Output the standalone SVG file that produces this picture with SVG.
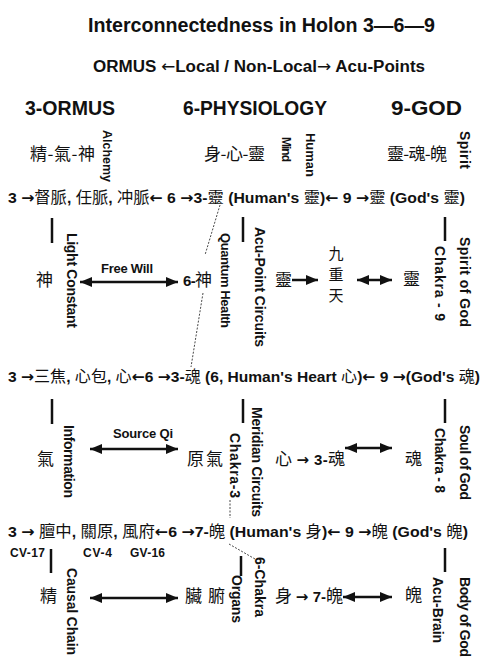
<svg xmlns="http://www.w3.org/2000/svg" width="487" height="672" viewBox="0 0 487 672">
<defs>
<style>
text{font-family:'Liberation Sans','Noto Sans CJK TC',sans-serif;font-weight:bold;fill:#111}
.t{font-size:21px}
.s{font-size:16px}
.h{font-size:21px}
.r{font-size:15.5px}
.c{font-family:'Noto Sans CJK TC','Liberation Sans',sans-serif;font-weight:normal;font-size:17px}
.cr{font-family:'Noto Sans CJK TC',sans-serif;font-weight:normal;font-size:16px}
.ar{font-family:'DejaVu Sans',sans-serif;font-weight:bold}
.arn{font-family:'DejaVu Sans',sans-serif;font-weight:normal}
.lat{font-family:'Liberation Sans',sans-serif;font-weight:bold;font-size:15px}
.v{font-size:14px}
.sm{font-size:12px}
.lbl{font-size:13px}
.ln{stroke:#111;stroke-width:2.5;fill:none}
.dot{stroke:#333;stroke-width:0.9;stroke-dasharray:2 1.5;fill:none}
</style>
<marker id="ah" viewBox="0 0 12 10" markerWidth="12" markerHeight="10" refX="12" refY="5" markerUnits="userSpaceOnUse" orient="auto-start-reverse">
<path d="M0,0 L12,5 L0,10 z" fill="#111"/>
</marker>
</defs>
<rect width="487" height="672" fill="#fff"/>

<g id="title"><text class="t" x="88" y="32" textLength="347" lengthAdjust="spacingAndGlyphs">Interconnectedness in Holon 3—6—9</text></g>
<g id="subtitle"><text class="s" x="93" y="72" textLength="332" lengthAdjust="spacingAndGlyphs">ORMUS <tspan class="arn">←</tspan>Local / Non-Local<tspan class="arn">→</tspan>  Acu-Points</text></g>

<g id="header-ormus"><text class="h" x="25" y="115" textLength="90" lengthAdjust="spacingAndGlyphs">3-ORMUS</text></g>
<g id="header-physiology"><text class="h" x="183" y="115" textLength="144" lengthAdjust="spacingAndGlyphs">6-PHYSIOLOGY</text></g>
<g id="header-god"><text class="h" x="391" y="115" textLength="71" lengthAdjust="spacingAndGlyphs">9-GOD</text></g>

<g id="alchemy">
<text class="c" x="30" y="160" textLength="65">精-氣-神</text>
<text style="font-size:12.5px" transform="translate(103,130) rotate(90)" textLength="52">Alchemy</text>
</g>
<g id="human-mind">
<text class="c" x="204" y="160" textLength="61">身-心-靈</text>
<text style="font-size:12px" transform="translate(281.5,137) rotate(90)" textLength="25">Mind</text>
<text style="font-size:13px" transform="translate(306,133) rotate(90)" textLength="44">Human</text>
</g>
<g id="spirit">
<text class="c" x="387" y="160" textLength="60">靈-魂-魄</text>
<text class="v" transform="translate(460,131) rotate(90)" textLength="38">Spirit</text>
</g>

<g id="row1">
<text class="r" x="8" y="203" textLength="457" lengthAdjust="spacingAndGlyphs">3 <tspan class="ar">→</tspan><tspan class="cr">督脈</tspan>, <tspan class="cr">任脈</tspan>, <tspan class="cr">冲脈</tspan><tspan class="ar">←</tspan> 6 <tspan class="ar">→</tspan>3-<tspan class="cr">靈</tspan> (Human's <tspan class="cr">靈</tspan>)<tspan class="ar">←</tspan> 9 <tspan class="ar">→</tspan><tspan class="cr">靈</tspan> (God's <tspan class="cr">靈</tspan>)</text>
</g>
<g id="row2">
<text class="r" x="8" y="382" textLength="472" lengthAdjust="spacingAndGlyphs">3 <tspan class="ar">→</tspan><tspan class="cr">三焦</tspan>, <tspan class="cr">心包</tspan>, <tspan class="cr">心</tspan><tspan class="ar">←</tspan>6 <tspan class="ar">→</tspan>3-<tspan class="cr">魂</tspan> (6, Human's Heart <tspan class="cr">心</tspan>)<tspan class="ar">←</tspan> 9 <tspan class="ar">→</tspan>(God's <tspan class="cr">魂</tspan>)</text>
</g>
<g id="row3">
<text class="r" x="8" y="537" textLength="460" lengthAdjust="spacingAndGlyphs">3 <tspan class="ar">→</tspan> <tspan class="cr">膻中</tspan>, <tspan class="cr">關原</tspan>, <tspan class="cr">風府</tspan><tspan class="ar">←</tspan>6 <tspan class="ar">→</tspan>7-<tspan class="cr">魄</tspan> (Human's <tspan class="cr">身</tspan>)<tspan class="ar">←</tspan> 9 <tspan class="ar">→</tspan><tspan class="cr">魄</tspan> (God's <tspan class="cr">魄</tspan>)</text>
</g>
<g id="acupoints">
<text class="sm" x="10" y="557" textLength="35">CV-17</text>
<text class="sm" x="83" y="557" textLength="29">CV-4</text>
<text class="sm" x="130" y="557" textLength="35">GV-16</text>
</g>

<!-- level 1 -->
<g id="shen">
<text class="c" x="36" y="286">神</text>
<text class="v" transform="translate(67,233) rotate(90)" textLength="95">Light Constant</text>
</g>
<g id="free-will"><text class="lbl" x="101" y="273" textLength="52">Free Will</text></g>
<g id="six-shen">
<text class="c" x="183" y="286" textLength="29"><tspan class="lat">6-</tspan>神</text>
<text style="font-size:13px" transform="translate(220.5,233) rotate(90)" textLength="95">Quantum Health</text>
</g>
<g id="acu-point-circuits"><text class="v" transform="translate(255,227) rotate(90)" textLength="120">Acu-Point Circuits</text></g>
<g id="ling-mid"><text class="c" x="275" y="286">靈</text></g>
<g id="nine-heavens">
<text class="cr" style="font-size:15px;writing-mode:vertical-rl;letter-spacing:6px" x="336" y="246">九重天</text>
</g>
<g id="ling-god">
<text class="c" x="403" y="285">靈</text>
<text class="v" transform="translate(435,246) rotate(90)" textLength="75">Chakra - 9</text>
<text class="v" transform="translate(460,237) rotate(90)" textLength="90">Spirit of God</text>
</g>

<!-- level 2 -->
<g id="qi">
<text class="c" x="37" y="465">氣</text>
<text class="v" transform="translate(64,425) rotate(90)" textLength="73">Information</text>
</g>
<g id="source-qi"><text class="lbl" x="113" y="438" textLength="60">Source Qi</text></g>
<g id="yuan-qi">
<text class="c" x="187" y="465" textLength="36">原氣</text>
<text class="v" transform="translate(230,433) rotate(90)" textLength="65">Chakra-3</text>
</g>
<g id="meridian-circuits"><text class="v" transform="translate(252,407) rotate(90)" textLength="110">Meridian Circuits</text></g>
<g id="xin-hun"><text class="c" x="275" y="465" textLength="70">心 <tspan class="lat"><tspan class="ar">→</tspan> 3-</tspan>魂</text></g>
<g id="hun-god">
<text class="c" x="405" y="465">魂</text>
<text class="v" transform="translate(435,428) rotate(90)" textLength="65">Chakra - 8</text>
<text class="v" transform="translate(460,425) rotate(90)" textLength="75">Soul of God</text>
</g>

<!-- level 3 -->
<g id="jing">
<text class="c" x="40" y="602">精</text>
<text class="v" transform="translate(67,568) rotate(90)" textLength="87">Causal Chain</text>
</g>
<g id="zang-fu">
<text class="c" x="185" y="602" textLength="40">臟 腑</text>
<text class="v" transform="translate(232,575) rotate(90)" textLength="48">Organs</text>
</g>
<g id="six-chakra"><text class="v" transform="translate(255,557) rotate(90)" textLength="60">6-Chakra</text></g>
<g id="shen-po"><text class="c" x="275" y="602" textLength="68">身 <tspan class="lat"><tspan class="ar">→</tspan> 7-</tspan>魄</text></g>
<g id="po-god">
<text class="c" x="405" y="601">魄</text>
<text class="v" transform="translate(433,577) rotate(90)" textLength="66">Acu-Brain</text>
<text class="v" transform="translate(460,577) rotate(90)" textLength="80">Body of God</text>
</g>

<g id="connectors">
<line class="ln" x1="52" y1="218" x2="52" y2="243"/>
<line class="ln" x1="243" y1="217" x2="243" y2="242"/>
<line class="ln" x1="445" y1="217" x2="445" y2="241"/>
<line class="ln" x1="52" y1="399" x2="52" y2="424"/>
<line class="ln" x1="243" y1="399" x2="243" y2="423"/>
<line class="ln" x1="445" y1="399" x2="445" y2="423"/>
<line class="ln" x1="51" y1="549" x2="51" y2="573"/>
<line class="ln" x1="241" y1="556" x2="241" y2="576"/>
<line class="ln" x1="445" y1="548" x2="445" y2="572"/>

<line class="ln" x1="80" y1="282" x2="178" y2="282" marker-start="url(#ah)" marker-end="url(#ah)"/>
<line class="ln" x1="292" y1="280" x2="318" y2="280" marker-end="url(#ah)"/>
<line class="ln" x1="357" y1="280" x2="392" y2="280" marker-start="url(#ah)" marker-end="url(#ah)"/>
<line class="ln" x1="90" y1="449" x2="178" y2="449" marker-start="url(#ah)" marker-end="url(#ah)"/>
<line class="ln" x1="345" y1="448" x2="392" y2="448" marker-start="url(#ah)" marker-end="url(#ah)"/>
<line class="ln" x1="90" y1="598" x2="178" y2="598" marker-start="url(#ah)" marker-end="url(#ah)"/>
<line class="ln" x1="343" y1="597" x2="392" y2="597" marker-start="url(#ah)" marker-end="url(#ah)"/>

<line class="dot" x1="220" y1="205" x2="205" y2="255"/>
<line class="dot" x1="203" y1="293" x2="191" y2="367"/>
<line class="dot" x1="230" y1="500" x2="230" y2="518"/>
<line class="dot" x1="229" y1="544" x2="255" y2="559"/>
</g>
</svg>
